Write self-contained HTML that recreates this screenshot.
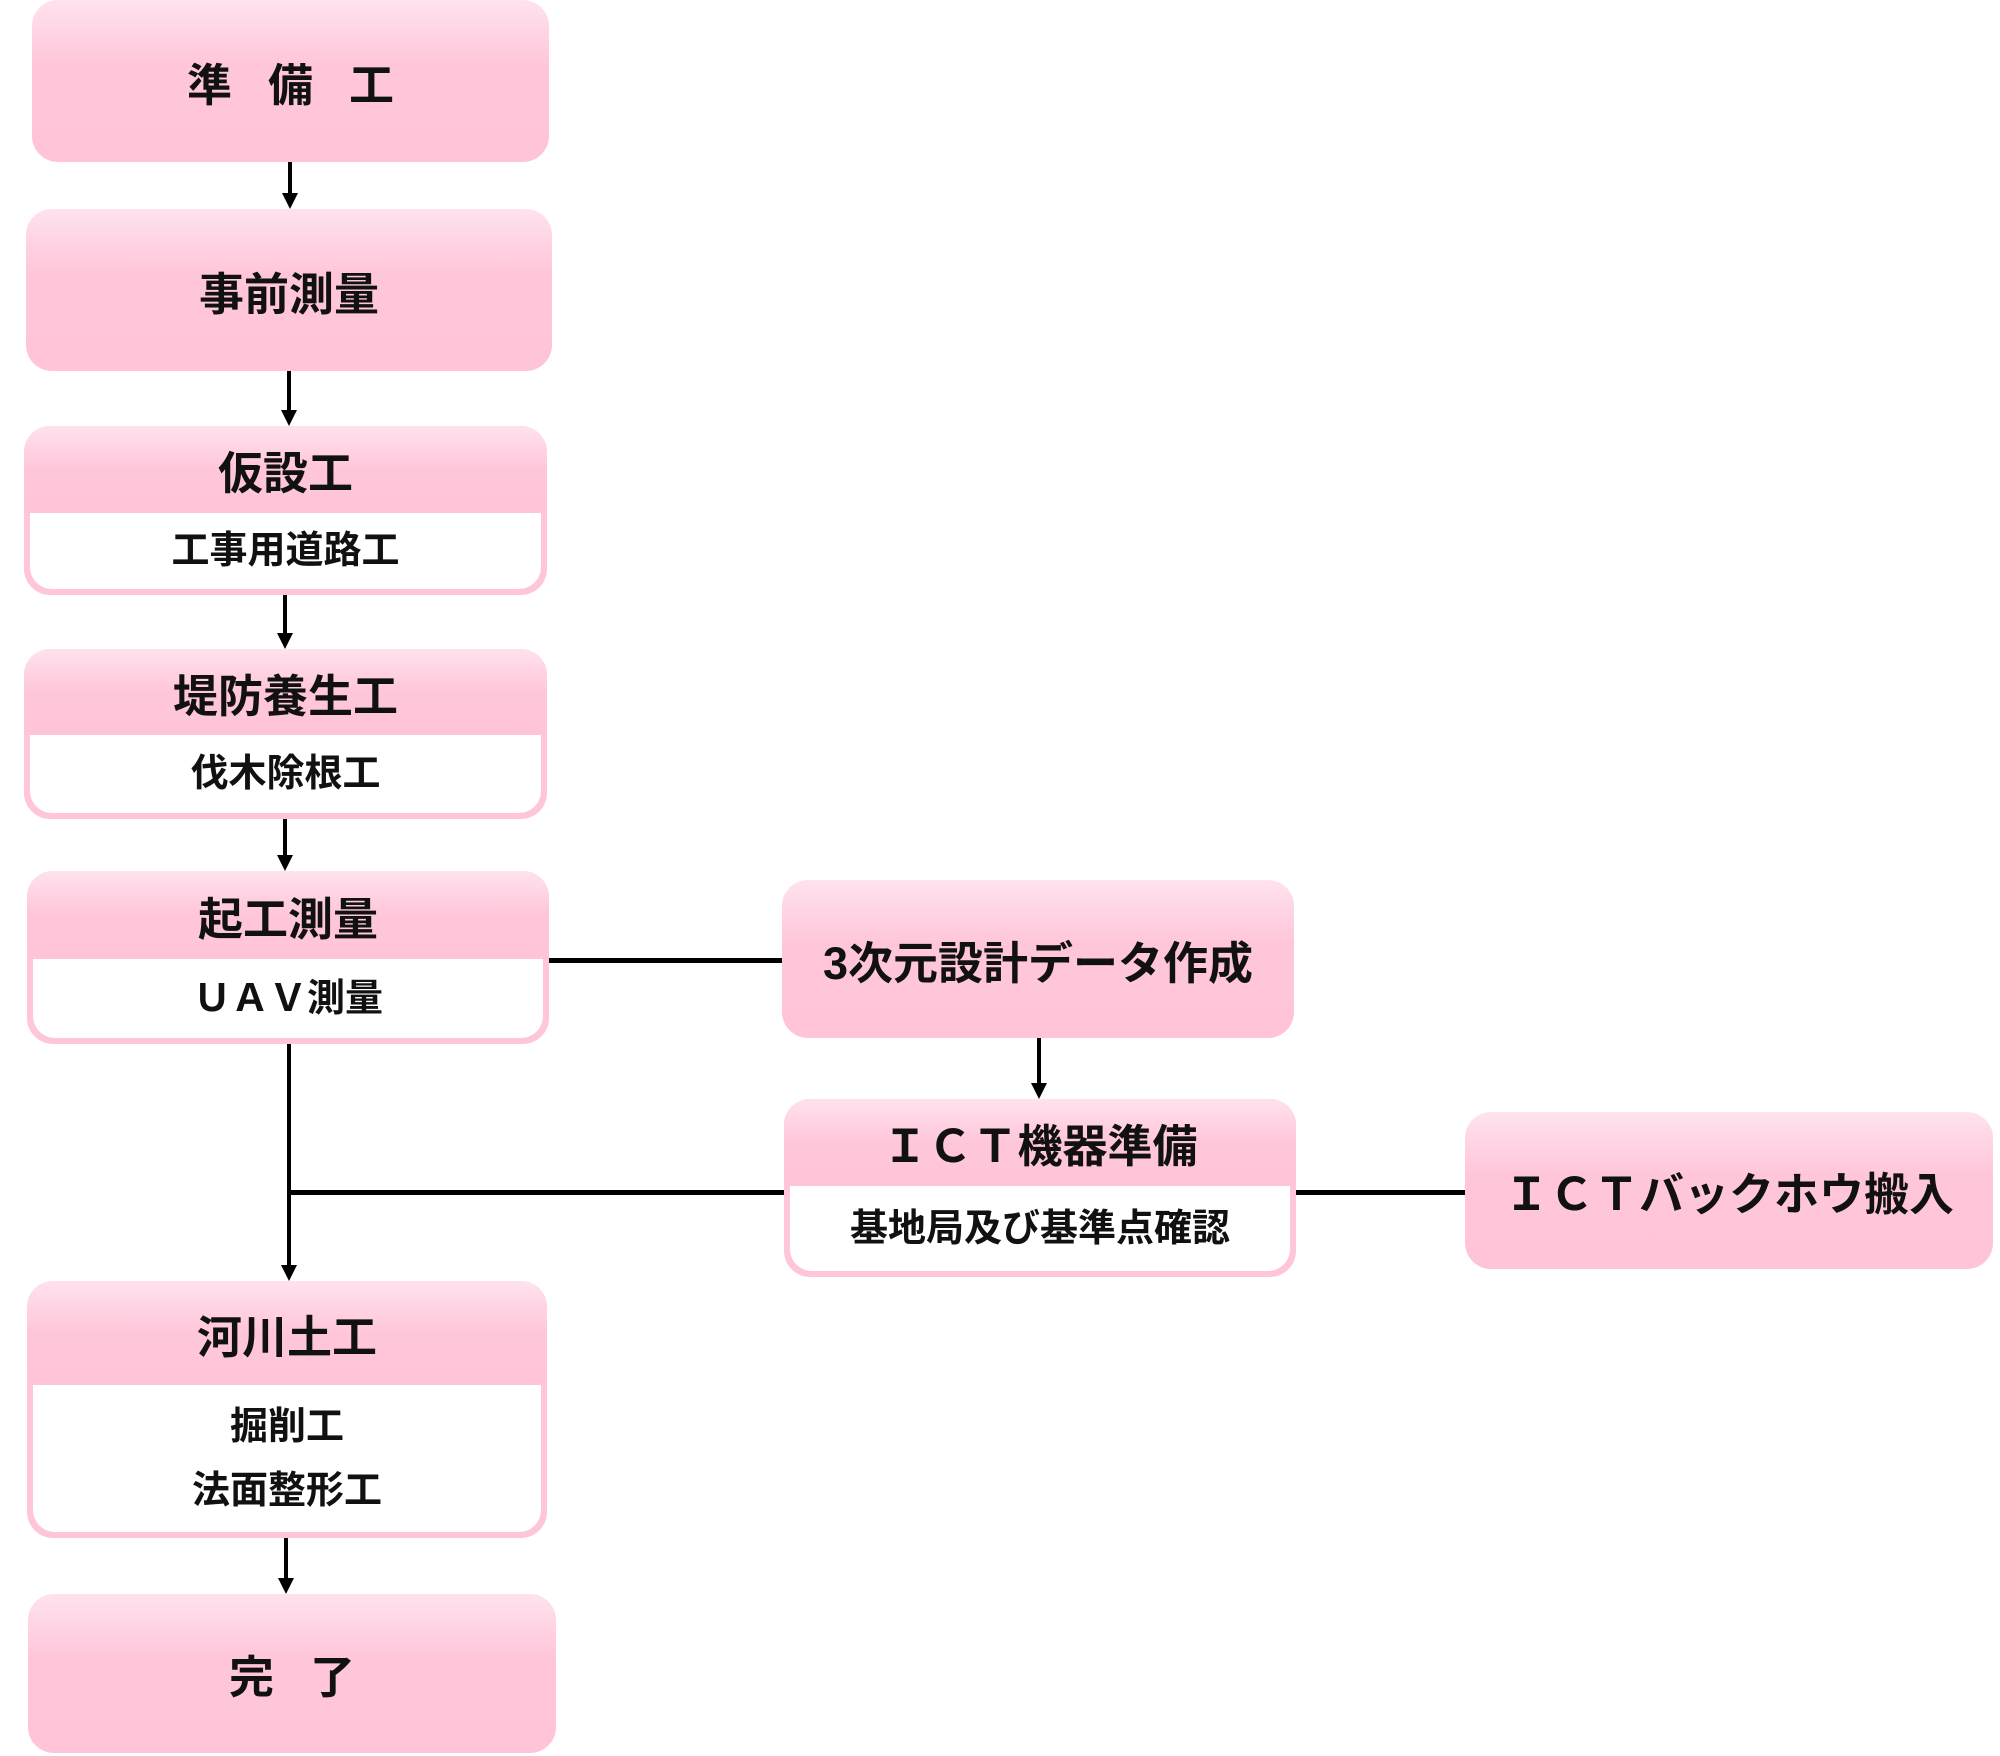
<!DOCTYPE html>
<html><head><meta charset="utf-8"><style>
body{margin:0;width:2000px;height:1756px;background:#fff;position:relative;overflow:hidden;font-family:"Liberation Sans","Noto Sans CJK JP",sans-serif;font-weight:bold;color:#111}
.b{position:absolute;border-radius:26px;background:linear-gradient(#ffe2ee 0%,#ffc6da 40%,#ffc4d8 100%);display:flex;align-items:center;justify-content:center;font-size:45px;box-sizing:border-box}
.s{position:absolute;border-radius:26px;background:#ffc6da;box-sizing:border-box;overflow:hidden}
.s .h{position:absolute;left:0;right:0;top:0;background:linear-gradient(#ffe2ee 0%,#ffc6da 50%,#ffc4d8 100%);display:flex;align-items:center;justify-content:center;font-size:45px}
.s .w{position:absolute;left:6px;right:6px;bottom:6px;background:#fff;border-radius:0 0 22px 22px;display:flex;flex-direction:column;align-items:center;justify-content:center;text-align:center;font-size:38px;line-height:64px}
.l{position:absolute;background:#000}
.a{position:absolute;width:0;height:0;border-left:8px solid transparent;border-right:8px solid transparent;border-top:16px solid #000}
</style></head><body>
<div class="b" style="left:32px;top:0;width:517px;height:162px;letter-spacing:36px;padding-left:36px">準備工</div>
<div class="b" style="left:26px;top:209px;width:526px;height:162px">事前測量</div>
<div class="s" style="left:24px;top:426px;width:523px;height:169px"><div class="h" style="height:87px">仮設工</div><div class="w" style="top:87px">工事用道路工</div></div>
<div class="s" style="left:24px;top:649px;width:523px;height:170px"><div class="h" style="height:86px">堤防養生工</div><div class="w" style="top:86px">伐木除根工</div></div>
<div class="s" style="left:27px;top:871px;width:522px;height:173px"><div class="h" style="height:88px">起工測量</div><div class="w" style="top:88px">ＵＡＶ測量</div></div>
<div class="b" style="left:782px;top:880px;width:512px;height:158px">3次元設計データ作成</div>
<div class="s" style="left:784px;top:1099px;width:512px;height:178px"><div class="h" style="height:87px">ＩＣＴ機器準備</div><div class="w" style="top:87px">基地局及び基準点確認</div></div>
<div class="b" style="left:1465px;top:1112px;width:528px;height:157px">ＩＣＴバックホウ搬入</div>
<div class="s" style="left:27px;top:1281px;width:520px;height:257px"><div class="h" style="height:104px">河川土工</div><div class="w" style="top:104px"><div>掘削工</div><div>法面整形工</div></div></div>
<div class="b" style="left:28px;top:1594px;width:528px;height:159px;letter-spacing:36px;padding-left:36px">完了</div>
<div class="l" style="left:288px;top:162px;width:4px;height:32px"></div><div class="a" style="left:282px;top:193px"></div>
<div class="l" style="left:287px;top:371px;width:4px;height:40px"></div><div class="a" style="left:281px;top:410px"></div>
<div class="l" style="left:283px;top:595px;width:4px;height:39px"></div><div class="a" style="left:277px;top:633px"></div>
<div class="l" style="left:283px;top:819px;width:4px;height:37px"></div><div class="a" style="left:277px;top:855px"></div>
<div class="l" style="left:287px;top:1044px;width:4px;height:222px"></div><div class="a" style="left:281px;top:1265px"></div>
<div class="l" style="left:284px;top:1538px;width:4px;height:41px"></div><div class="a" style="left:278px;top:1578px"></div>
<div class="l" style="left:1037px;top:1038px;width:4px;height:46px"></div><div class="a" style="left:1031px;top:1083px"></div>
<div class="l" style="left:549px;top:958px;width:233px;height:5px"></div>
<div class="l" style="left:289px;top:1190px;width:495px;height:5px"></div>
<div class="l" style="left:1296px;top:1190px;width:169px;height:5px"></div>
</body></html>
